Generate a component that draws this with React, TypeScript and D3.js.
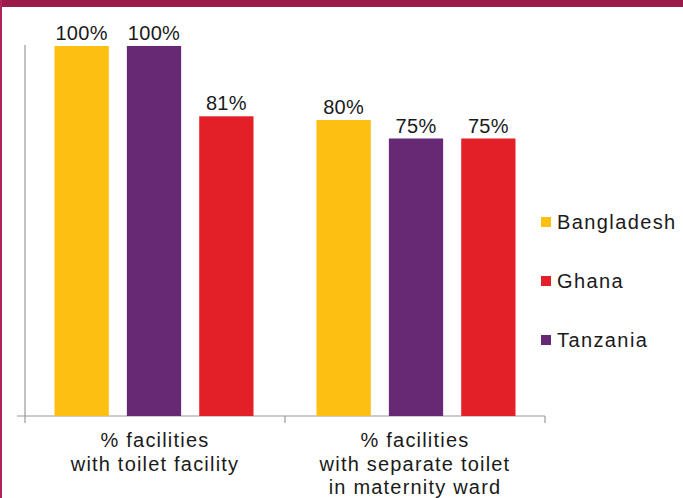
import React from "react";
import * as d3 from "d3";

const categories = [
  ["% facilities", "with toilet facility"],
  ["% facilities", "with separate toilet", "in maternity ward"],
];
const barOrder = ["Bangladesh", "Tanzania", "Ghana"];
const legendOrder = ["Bangladesh", "Ghana", "Tanzania"];
const bangladesh = [100, 80];
const ghana = [81, 75];
const tanzania = [100, 75];
const colors: Record<string, string> = {
  Bangladesh: "#FDBF12",
  Ghana: "#E31F27",
  Tanzania: "#672874",
};

const W = 683;
const H = 498;
const FONT = "'Liberation Sans', Arial, sans-serif";

export default function App() {
  const seriesValues: Record<string, number[]> = {
    Bangladesh: bangladesh,
    Ghana: ghana,
    Tanzania: tanzania,
  };
  const x0 = d3
    .scaleBand<number>()
    .domain(categories.map((_, i) => i))
    .range([25, 545]);
  const groupW = 199;
  const x1 = d3
    .scaleBand<string>()
    .domain(barOrder)
    .range([0, groupW])
    .paddingInner(0.25)
    .paddingOuter(0);
  const y = d3.scaleLinear().domain([0, 100]).range([416, 46]);
  const groupOffset = (i: number) =>
    x0(i)! + (x0.bandwidth() - groupW) / 2 + (i === 0 ? -1 : 1);

  return (
    <svg
      width={W}
      height={H}
      style={{ position: "absolute", left: 0, top: 0, background: "#fff" }}
      fontFamily={FONT}
    >
      <rect x={0} y={0} width={W} height={H} fill="#fff" />
      <rect x={0} y={0} width={W} height={7} fill="#9C1B4C" />
      <rect x={0} y={0} width={2} height={H} fill="#B0245C" />

      {/* axes */}
      <line x1={25} x2={25} y1={45} y2={423} stroke="#9a9a9a" strokeWidth={1.2} />
      <line x1={17} x2={545} y1={416} y2={416} stroke="#9a9a9a" strokeWidth={1.2} />
      {[0, 1].map((i) => (
        <line
          key={i}
          x1={x0(i)! + x0.bandwidth()}
          x2={x0(i)! + x0.bandwidth()}
          y1={416}
          y2={423}
          stroke="#9a9a9a"
          strokeWidth={1.2}
        />
      ))}

      {categories.map((_, i) =>
        barOrder.map((s) => {
          const v = seriesValues[s][i];
          const bx = groupOffset(i) + x1(s)!;
          return (
            <g key={s + i}>
              <rect
                x={bx}
                y={y(v)}
                width={x1.bandwidth()}
                height={y(0) - y(v)}
                fill={colors[s]}
              />
              <text
                x={bx + x1.bandwidth() / 2}
                y={y(v) - 6}
                textAnchor="middle"
                fontSize={20}
                letterSpacing={0.3}
                fill="#1a1a1a"
              >
                {v}%
              </text>
            </g>
          );
        })
      )}

      {categories.map((lines, i) => (
        <text
          key={i}
          textAnchor="middle"
          fontSize={20}
          letterSpacing={1.2}
          fill="#1a1a1a"
        >
          {lines.map((l, j) => (
            <tspan key={j} x={x0(i)! + x0.bandwidth() / 2} y={447 + j * 23.5}>
              {l}
            </tspan>
          ))}
        </text>
      ))}

      {legendOrder.map((s, i) => {
        const ly = 222 + i * 59;
        return (
          <g key={s}>
            <rect x={541} y={ly - 5} width={10} height={10} fill={colors[s]} />
            <text x={557} y={ly + 7} fontSize={20} letterSpacing={1.4} fill="#1a1a1a">
              {s}
            </text>
          </g>
        );
      })}
    </svg>
  );
}
